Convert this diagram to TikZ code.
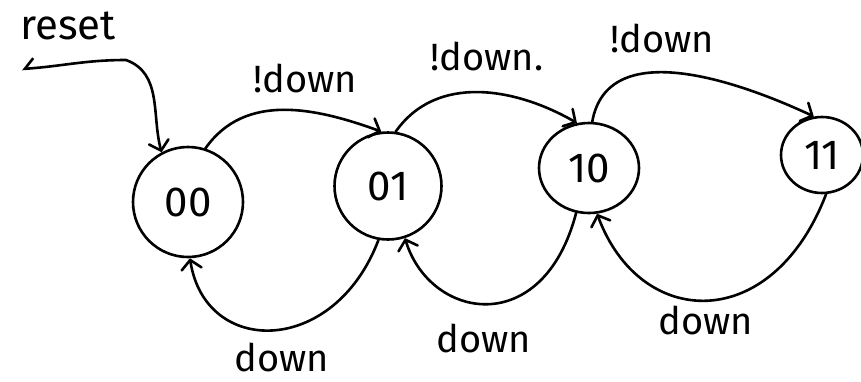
\documentclass[tikz,border=0pt]{standalone}
\usepackage{fontspec}
\setmainfont{Fira Sans}
\usetikzlibrary{arrows.meta,shapes.geometric}
\begin{document}
\begin{tikzpicture}[x=1pt,y=-1pt,
  state/.style={draw,line width=2.6pt,circle,inner sep=0pt,font=\fontsize{42}{46}\selectfont},
  estate/.style={draw,line width=2.6pt,ellipse,inner sep=0pt,font=\fontsize{42}{46}\selectfont},
  tip/.style={-{Straight Barb[length=9pt,width=20pt,line cap=round]}},
  conn/.style={line width=2.6pt,line cap=round,tip},
  lbl/.style={font=\fontsize{38}{44}\selectfont,inner sep=0pt}]
\useasboundingbox (0,0) rectangle (861,381);
\node[state,minimum size=110pt] (s00) at (188,202) {00};
\node[state,minimum size=107pt] (s01) at (388,186) {01};
\node[estate,minimum width=100pt,minimum height=90pt] (s10) at (589,168) {10};
\node[estate,minimum width=82pt,minimum height=76pt] (s11) at (822,155) {11};
\coordinate (rs) at (22,69);
\coordinate (rc) at (126,60);
% reset
\node[lbl,font=\fontsize{42}{46}\selectfont] (lreset) at (68,26) {reset};
\draw[line width=2.6pt,line cap=round,{Straight Barb[harpoon,swap,length=9pt,width=20pt]}-{Straight Barb[length=9pt,width=20pt,line cap=round]}]
  (rs) to[out=4,in=180] (rc) to[out=-20,in=105] (s00.118);
% top arcs
\draw[conn] (s00.72) to[out=55,in=160] (s01.97);
\draw[conn] (s01.82) to[out=55,in=150] (s10.105);
\draw[conn] (s10.86) to[out=80,in=155] (s11.102);
\node[lbl] (l1) at (305,78) {!down};
\node[lbl] (l2) at (487,56) {!down.};
\node[lbl] (l3) at (662,38) {!down};
% bottom arcs
\draw[conn] (s01.-100) .. controls (334,357) and (205,357) .. (s00.-88);
\draw[conn] (s10.-106) .. controls (543,340) and (430,320) .. (s01.-72);
\draw[conn] (s11.-84) .. controls (772,335) and (640,330) .. (s10.-80);
\node[lbl] (l4) at (282,357) {down};
\node[lbl] (l5) at (484,338) {down};
\node[lbl] (l6) at (706,320) {down};
\end{tikzpicture}
\end{document}
